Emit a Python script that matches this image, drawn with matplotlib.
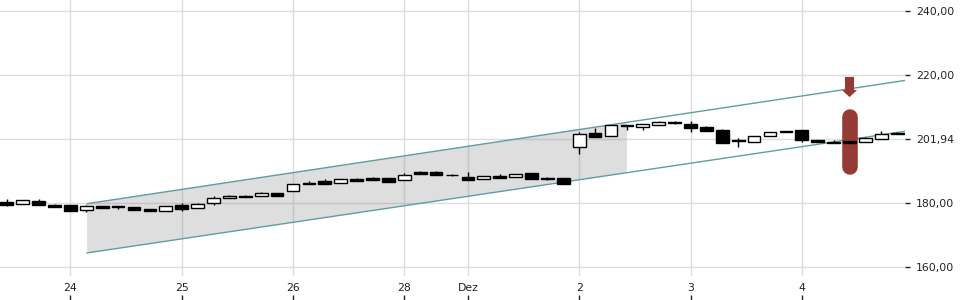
import numpy as np
import matplotlib
matplotlib.use("Agg")
import matplotlib.pyplot as plt
from matplotlib.patches import Rectangle, FancyArrow, Polygon

# ---- data (hourly candles) ----
opens  = [180.3, 179.6, 180.6, 179.3, 179.3, 177.7, 179.0, 178.9, 178.85, 178.1,
          177.5, 179.4, 178.3, 179.9, 181.5, 182.1, 182.1, 183.1, 183.7, 186.2,
          186.8, 186.3, 187.5, 187.8, 187.7, 187.3, 189.6, 189.6, 188.9, 188.1,
          187.4, 188.4, 188.0, 189.4, 187.6, 187.7, 197.4, 201.8, 200.8, 204.1,
          203.8, 204.5, 205.2, 204.7, 203.7, 202.8, 199.5, 199.0, 200.8, 202.6,
          202.8, 199.6, 199.2, 199.4, 199.2, 200.1, 202.0]
highs  = [181.3, 180.9, 181.2, 179.7, 179.3, 179.5, 179.0, 179.0, 178.9, 178.1,
          179.0, 180.0, 180.1, 182.3, 182.4, 182.5, 183.5, 183.1, 185.8, 186.9,
          187.4, 187.5, 187.9, 188.2, 187.7, 189.4, 189.9, 189.9, 189.1, 189.6,
          188.3, 189.0, 189.0, 189.4, 188.0, 187.7, 202.2, 203.4, 204.3, 204.3,
          204.7, 205.6, 205.6, 205.6, 204.0, 203.1, 200.2, 200.8, 202.1, 202.6,
          202.8, 199.6, 199.8, 199.4, 200.6, 202.6, 202.3]
lows   = [179.2, 179.6, 179.3, 178.8, 177.6, 177.2, 178.4, 178.2, 177.7, 177.4,
          177.5, 177.6, 178.3, 179.5, 181.5, 181.8, 182.1, 182.1, 183.7, 185.9,
          186.0, 186.3, 186.9, 187.2, 186.7, 187.3, 189.0, 188.7, 188.5, 187.3,
          187.4, 187.9, 188.0, 187.6, 187.3, 185.9, 195.3, 200.7, 200.8, 202.7,
          202.9, 204.5, 204.7, 202.2, 202.6, 198.8, 197.6, 199.0, 200.8, 202.1,
          199.0, 199.0, 198.7, 198.8, 199.2, 200.1, 201.5]
closes = [179.3, 180.8, 179.3, 178.9, 177.6, 179.0, 178.5, 178.8, 177.7, 177.4,
          179.0, 178.2, 179.6, 181.6, 182.2, 181.9, 183.1, 182.1, 185.8, 186.0,
          186.0, 187.5, 186.9, 187.2, 186.7, 188.6, 189.0, 188.7, 188.6, 187.3,
          188.3, 187.9, 189.0, 187.6, 187.4, 185.9, 201.7, 200.7, 204.3, 204.0,
          204.7, 205.3, 205.1, 203.4, 202.6, 198.8, 199.4, 200.8, 202.1, 202.1,
          199.6, 199.0, 198.7, 198.9, 200.2, 201.6, 201.5]

xtick_idx    = [4, 11, 18, 25, 29, 36, 43, 50]
xtick_labels = ['24', '25', '26', '28', 'Dez', '2', '3', '4']
ytick_vals   = [160, 180, 200, 220, 240]
ytick_labels = ['160,00', '180,00', '201,94', '220,00', '240,00']

channel_idx   = [5.05, 56.49]
channel_upper = [179.8, 218.3]
channel_lower = [164.4, 202.4]
fill_end_idx  = 39.0

marker_idx   = 53
arrow_top    = 219.4
arrow_tip    = 213.1
bar_top      = 206.8
bar_bottom   = 191.2

# ---- figure ----
W, H = 960, 300
fig = plt.figure(figsize=(W / 100, H / 100), dpi=100)
ax_right = 905 / W
XLIM = (-0.428, 56.49)
ax = fig.add_axes([0, 24 / H, ax_right, 276 / H])
ax.set_xlim(*XLIM)
ax.set_ylim(157.19, 243.44)
for s in ax.spines.values():
    s.set_visible(False)

grid_c = '#dcdcdc'
for v in ytick_vals:
    ax.axhline(v, color=grid_c, lw=1, zorder=0)
for v in xtick_idx:
    ax.axvline(v, color=grid_c, lw=1, zorder=0)

# channel fill
fx = np.array([channel_idx[0], fill_end_idx])
fu = np.interp(fx, channel_idx, channel_upper)
fl = np.interp(fx, channel_idx, channel_lower)
poly = Polygon([(fx[0], fl[0]), (fx[0], fu[0]), (fx[1], fu[1]), (fx[1], fl[1])],
               closed=True, facecolor=(0.5, 0.5, 0.5, 0.26), edgecolor='none', zorder=1)
ax.add_patch(poly)

teal = '#5f9ea0'
ax.plot(channel_idx, channel_upper, color=teal, lw=1, zorder=2)
ax.plot(channel_idx, channel_lower, color=teal, lw=1, zorder=2)

# red marker bar & arrow
red = '#963a35'
ax.plot([marker_idx, marker_idx], [bar_bottom, bar_top], color=red, lw=11.2,
        solid_capstyle='round', zorder=2.5)
arrow = FancyArrow(marker_idx, arrow_top, 0, arrow_tip - arrow_top, width=0.57,
                   head_width=0.95, head_length=2.2, length_includes_head=True,
                   color=red, lw=0, zorder=4)
ax.add_patch(arrow)

# candles
bw = 0.8
for i, (o, h, l, c) in enumerate(zip(opens, highs, lows, closes)):
    ax.plot([i, i], [l, h], color='black', lw=1, zorder=3, solid_capstyle='butt')
    bot = min(o, c)
    ht = max(abs(c - o), 0.3)
    fc = 'white' if c > o else 'black'
    ax.add_patch(Rectangle((i - bw / 2, bot), bw, ht, facecolor=fc,
                           edgecolor='black', lw=1, zorder=3.5))

# y axis on right
ax.yaxis.tick_right()
ax.set_yticks(ytick_vals)
ax.set_yticklabels(ytick_labels)
ax.tick_params(axis='y', length=3.6, width=1, pad=4.3, labelsize=7.8,
               colors='#222222')
ax.set_xticks([])

# bottom tick strip (separate axes, same x range)
ax2 = fig.add_axes([0, 0, ax_right, 24 / H])
ax2.set_xlim(*XLIM)
for s in ax2.spines.values():
    s.set_visible(False)
ax2.set_yticks([])
ax2.set_xticks(xtick_idx)
ax2.set_xticklabels(xtick_labels)
ax2.tick_params(axis='x', direction='in', length=3.6, width=1, pad=-12,
                labelsize=7.8, colors='#222222')
ax2.patch.set_alpha(0)

fig.savefig('out.png', dpi=100)
